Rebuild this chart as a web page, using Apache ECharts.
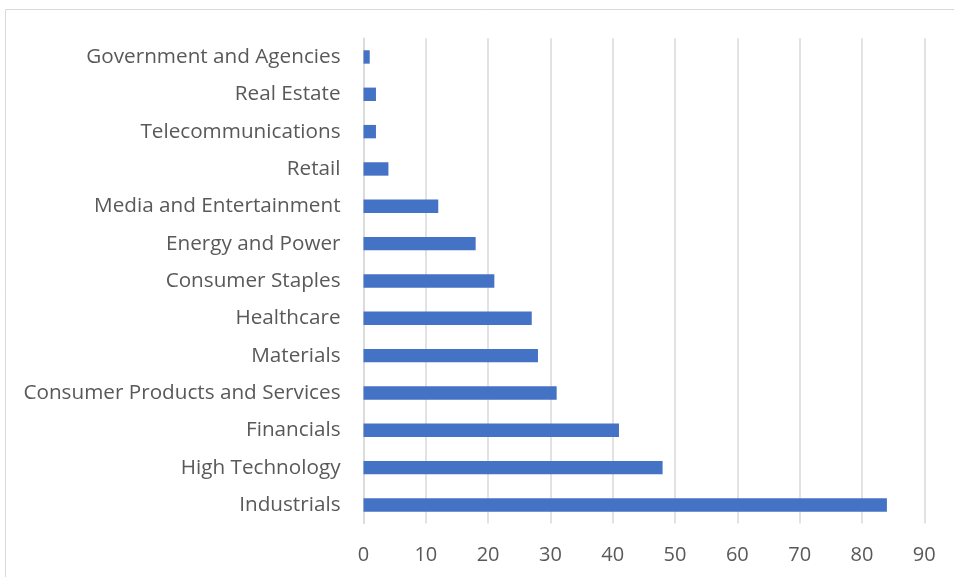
<!DOCTYPE html>
<html>
<head>
<meta charset="utf-8">
<script src="https://cdn.jsdelivr.net/npm/echarts@6/dist/echarts.min.js"></script>
<style>
  html, body { margin: 0; padding: 0; background: #fff; }
  #chart { width: 954px; height: 577px; }
</style>
</head>
<body>
<div id="chart"></div>
<script>
// Sectors, listed bottom to top as they appear on the category axis
const sectors = [
  'Industrials',
  'High Technology',
  'Financials',
  'Consumer Products and Services',
  'Materials',
  'Healthcare',
  'Consumer Staples',
  'Energy and Power',
  'Media and Entertainment',
  'Retail',
  'Telecommunications',
  'Real Estate',
  'Government and Agencies'
];
const counts = [84, 48, 41, 31, 28, 27, 21, 18, 12, 4, 2, 2, 1];
const xTicks = [0, 10, 20, 30, 40, 50, 60, 70, 80, 90];

const FONT = '"Open Sans", "DejaVu Sans", sans-serif';
const TEXT = '#595959';
const GRID = '#d9d9d9';

const chart = echarts.init(document.getElementById('chart'), null, { renderer: 'canvas' });
chart.setOption({
  animation: false,
  backgroundColor: '#ffffff',
  graphic: [{
    type: 'rect',
    shape: { x: 5.5, y: 9.5, width: 2000, height: 2000 },
    style: { fill: 'none', stroke: GRID, lineWidth: 1 },
    silent: true
  }],
  grid: { left: 363.5, right: 29.7, top: 38.3, bottom: 53.4, containLabel: false },
  xAxis: {
    type: 'value',
    min: xTicks[0],
    max: xTicks[xTicks.length - 1],
    interval: 10,
    axisLine: { show: false },
    axisTick: { show: false },
    splitLine: { show: true, lineStyle: { color: GRID, width: 1.5 } },
    axisLabel: { color: TEXT, fontFamily: FONT, fontSize: 20, margin: 22 }
  },
  yAxis: {
    type: 'category',
    data: sectors,
    axisLine: { show: true, lineStyle: { color: GRID, width: 1.5 } },
    axisTick: { show: false },
    axisLabel: { color: TEXT, fontFamily: FONT, fontSize: 20.7, margin: 23 }
  },
  series: [{
    type: 'bar',
    data: counts,
    barWidth: 13.4,
    itemStyle: { color: '#4472C4' }
  }]
});
</script>
</body>
</html>
